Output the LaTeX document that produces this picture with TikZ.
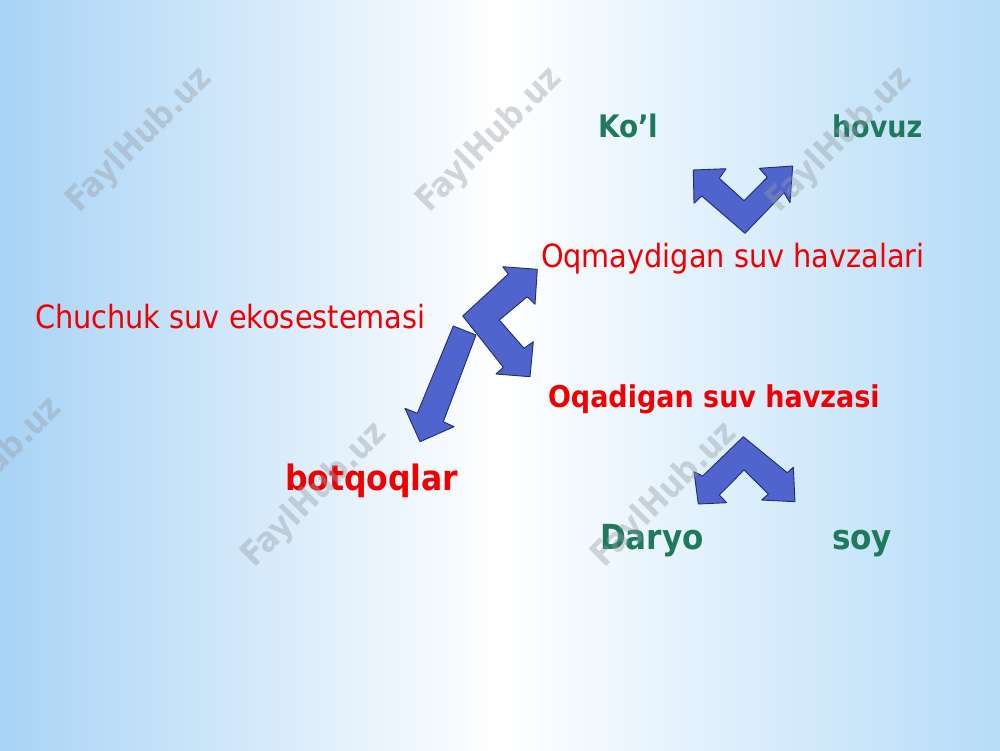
\documentclass[tikz,border=0pt]{standalone}
\usepackage{fontspec}
\setmainfont{DejaVu Sans Condensed}
\usetikzlibrary{fadings}

\definecolor{bgleft}{RGB}{168,211,245}
\definecolor{bgright}{RGB}{182,220,248}
\definecolor{bgstreak}{RGB}{190,224,249}
\definecolor{txtred}{RGB}{240,0,0}
\definecolor{txtgreen}{RGB}{31,122,92}
\definecolor{arrowfill}{RGB}{80,100,205}
\definecolor{arrowline}{RGB}{30,45,110}
\definecolor{wmgrey}{RGB}{150,156,162}

\tikzfading[name=bandfade, top color=transparent!100, middle color=transparent!0, bottom color=transparent!100]

\tikzset{
  blockarrow/.style={fill=arrowfill, draw=arrowline, line join=round, line width=0.9pt},
  redlabel/.style={anchor=base west, text=txtred, font=\fontsize{32}{32}\selectfont},
  redbold/.style={anchor=base west, text=txtred, font=\bfseries\fontsize{#1}{#1}\selectfont},
  greenbold/.style={anchor=base west, text=txtgreen, font=\bfseries\fontsize{#1}{#1}\selectfont},
  watermark/.style={rotate=45, text=wmgrey, text opacity=0.4, font=\bfseries\fontsize{34}{34}\selectfont}
}

\begin{document}
\begin{tikzpicture}[y=1pt, x=1pt, yscale=-1, inner sep=0pt, outer sep=0pt]
\useasboundingbox (0,0) rectangle (1000,750);

% background
\shade[left color=bgleft, right color=bgright, middle color=white] (0,0) rectangle (1000,750);
\path[fill=white, opacity=0.45, path fading=bandfade] (0,0) rectangle (1000,120);
\path[fill=bgstreak, opacity=0.8, path fading=bandfade] (0,505) rectangle (1000,540);
\path[fill=white, opacity=0.8, path fading=bandfade] (0,530) rectangle (1000,575);
\path[fill=bgstreak, opacity=0.8, path fading=bandfade] (0,565) rectangle (1000,605);

% labels
\node[greenbold=31] (kol) at (598,137) {Ko’l};
\node[greenbold=30] (hovuz) at (832,137) {hovuz};
\node[redlabel] (oqmay) at (541,267) {Oqmaydigan suv havzalari};
\node[redlabel] (chuchuk) at (35,328) {Chuchuk suv ekosestemasi};
\node[redbold=30] (oqadi) at (548,407) {Oqadigan suv havzasi};
\node[redbold=35] (botqoq) at (285,490) {botqoqlar};
\node[greenbold=34.5] (daryo) at (600,549) {Daryo};
\node[greenbold=34.5] (soy) at (832,549) {soy};

% arrows
\path[blockarrow] (745,233.3) -- (701.7,196) -- (694,203.3) -- (693.3,170) -- (726,168.7) -- (719.3,178.3) -- (744,200.7) -- (767.3,177.3) -- (759.3,168.3) -- (792.7,166) -- (790,202.7) -- (784,192.7) -- cycle;

\path[blockarrow] (453.3,326) -- (476,335) -- (443.3,421.7) -- (454,426.7) -- (420,441.7) -- (405,408.3) -- (417.3,413.3) -- cycle;

\path[blockarrow] (462.7,316) -- (508.3,274) -- (502.7,266.7) -- (537.3,269.3) -- (535,304.3) -- (527.3,296.7) -- (499.3,320) -- (524,348.3) -- (533.3,341.7) -- (530,376.7) -- (496,374) -- (503.3,367.3) -- cycle;

\path[blockarrow] (743.3,436.7) -- (787.3,472.7) -- (793.3,467.3) -- (795,501.7) -- (761.7,500) -- (768.3,494) -- (744,470) -- (719.3,495) -- (726.7,502.7) -- (698.3,504) -- (694,471.7) -- (702.7,476) -- cycle;

% watermarks
\node[watermark] (wm1) at (140,140) {FaylHub.uz};
\node[watermark] (wm2) at (490,140) {FaylHub.uz};
\node[watermark] (wm3) at (840,140) {FaylHub.uz};
\node[watermark] (wm4) at (-10,470) {FaylHub.uz};
\node[watermark] (wm5) at (315,495) {FaylHub.uz};
\node[watermark] (wm6) at (665,495) {FaylHub.uz};

\end{tikzpicture}
\end{document}
